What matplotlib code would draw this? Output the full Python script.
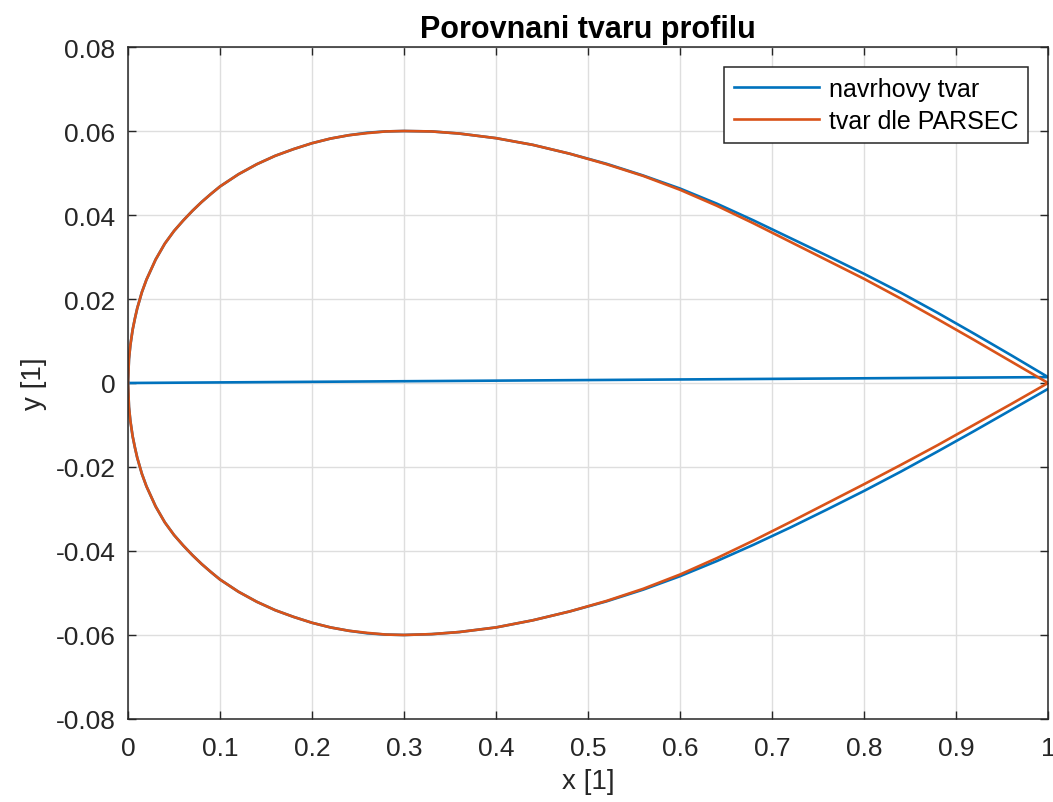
import numpy as np
import matplotlib
matplotlib.use('Agg')
import matplotlib.pyplot as plt

plt.rcParams['font.family'] = ['Liberation Sans', 'DejaVu Sans']

# ── Profile coordinates (chord-normalised) ───────────────────────────────────
x_st = [0.0, 0.001, 0.0025, 0.005, 0.0075, 0.01, 0.015, 0.02, 0.03, 0.04,
        0.05, 0.06, 0.07, 0.08, 0.09, 0.1, 0.12, 0.14, 0.16, 0.18, 0.2, 0.22,
        0.24, 0.26, 0.28, 0.3, 0.33, 0.36, 0.4, 0.44, 0.48, 0.52, 0.56, 0.6,
        0.64, 0.68, 0.72, 0.76, 0.8, 0.84, 0.88, 0.92, 0.96, 1.0]

# design shape (navrhovy tvar)
design_upper = [0.0, 0.0057, 0.0090, 0.0127, 0.0154, 0.0178, 0.0216, 0.0246,
                0.0294, 0.0332, 0.0362, 0.0387, 0.0410, 0.0431, 0.0450, 0.0468,
                0.0497, 0.0521, 0.0541, 0.0557, 0.0571, 0.0582, 0.0590, 0.0596,
                0.0599, 0.0600, 0.0599, 0.0594, 0.0583, 0.0567, 0.0546, 0.0522,
                0.0494, 0.0463, 0.0427, 0.0387, 0.0345, 0.0303, 0.0260, 0.0215,
                0.0167, 0.0117, 0.0066, 0.0014]
design_lower = [0.0, -0.0057, -0.0090, -0.0127, -0.0154, -0.0178, -0.0216,
                -0.0246, -0.0294, -0.0332, -0.0362, -0.0387, -0.0410, -0.0431,
                -0.0450, -0.0468, -0.0497, -0.0521, -0.0541, -0.0557, -0.0571,
                -0.0582, -0.0590, -0.0596, -0.0599, -0.0600, -0.0598, -0.0593,
                -0.0582, -0.0565, -0.0544, -0.0520, -0.0492, -0.0460, -0.0424,
                -0.0385, -0.0344, -0.0301, -0.0257, -0.0211, -0.0163, -0.0114,
                -0.0064, -0.0014]

# PARSEC fit (tvar dle PARSEC)
parsec_upper = [0.0, 0.0057, 0.0090, 0.0127, 0.0154, 0.0178, 0.0216, 0.0246,
                0.0294, 0.0332, 0.0362, 0.0387, 0.0410, 0.0431, 0.0450, 0.0468,
                0.0497, 0.0521, 0.0541, 0.0557, 0.0571, 0.0582, 0.0590, 0.0595,
                0.0599, 0.0600, 0.0599, 0.0594, 0.0583, 0.0567, 0.0546, 0.0521,
                0.0493, 0.0460, 0.0422, 0.0380, 0.0336, 0.0292, 0.0248, 0.0201,
                0.0152, 0.0102, 0.0051, 0.0]
parsec_lower = [0.0, -0.0057, -0.0090, -0.0127, -0.0154, -0.0178, -0.0216,
                -0.0246, -0.0294, -0.0332, -0.0362, -0.0387, -0.0410, -0.0431,
                -0.0450, -0.0468, -0.0497, -0.0521, -0.0541, -0.0557, -0.0571,
                -0.0582, -0.0590, -0.0595, -0.0599, -0.0600, -0.0598, -0.0593,
                -0.0582, -0.0565, -0.0544, -0.0519, -0.0490, -0.0456, -0.0417,
                -0.0375, -0.0331, -0.0286, -0.0241, -0.0195, -0.0148, -0.0099,
                -0.0050, 0.0]

x_ticks = [0, 0.1, 0.2, 0.3, 0.4, 0.5, 0.6, 0.7, 0.8, 0.9, 1]
x_ticklabels = ['0', '0.1', '0.2', '0.3', '0.4', '0.5', '0.6', '0.7', '0.8', '0.9', '1']
y_ticks = [-0.08, -0.06, -0.04, -0.02, 0, 0.02, 0.04, 0.06, 0.08]
y_ticklabels = ['-0.08', '-0.06', '-0.04', '-0.02', '0', '0.02', '0.04', '0.06', '0.08']

BLUE = '#0072BD'
ORANGE = '#D95319'
AX_COL = '#262626'

x = np.array(x_st)
# design shape is stored upper then lower, both leading edge -> trailing edge
xd = np.concatenate([x, x])
yd = np.concatenate([design_upper, design_lower])
# PARSEC shape goes round the profile from trailing edge
xp = np.concatenate([x[::-1], x[1:]])
yp = np.concatenate([np.array(parsec_upper)[::-1], parsec_lower[1:]])

fig = plt.figure(figsize=(10.53, 8.03), dpi=100)
ax = fig.add_axes([0.1216, 0.1034, 0.8737, 0.8368])

ax.plot(xd, yd, color=BLUE, linewidth=1.9, label='navrhovy tvar',
        solid_joinstyle='round')
ax.plot(xp, yp, color=ORANGE, linewidth=1.9, label='tvar dle PARSEC',
        solid_joinstyle='round')

ax.set_xlim(0, 1)
ax.set_ylim(-0.08, 0.08)
ax.set_xticks(x_ticks)
ax.set_xticklabels(x_ticklabels)
ax.set_yticks(y_ticks)
ax.set_yticklabels(y_ticklabels)

ax.grid(True, color='#dedede', linewidth=1.0)
ax.set_axisbelow(True)
ax.tick_params(direction='in', length=6, width=1.0, colors=AX_COL,
               labelsize=19, top=True, right=True)
ax.tick_params(axis='x', pad=12)
ax.tick_params(axis='y', pad=9)
for sp in ax.spines.values():
    sp.set_color(AX_COL)
    sp.set_linewidth(1.1)

ax.set_title('Porovnani tvaru profilu', fontsize=22, fontweight='bold',
             color='black', pad=7)
ax.set_xlabel('x [1]', fontsize=20, color=AX_COL, labelpad=6)
ax.set_ylabel('y [1]', fontsize=20, color=AX_COL, labelpad=6)

leg = ax.legend(loc='upper right', fontsize=18, handlelength=3.4,
                borderaxespad=0.8, fancybox=False, framealpha=1,
                edgecolor=AX_COL, handletextpad=0.4, borderpad=0.4,
                labelspacing=0.3)
leg.get_frame().set_linewidth(1.1)

fig.savefig('out.png', dpi=100)
